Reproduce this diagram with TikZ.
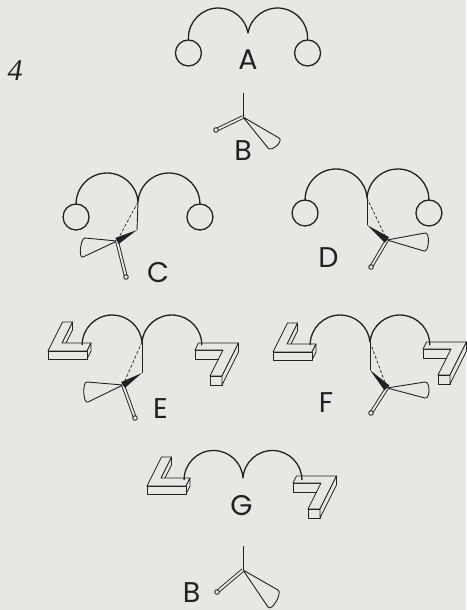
\documentclass[tikz,border=0pt]{standalone}
\usepackage{fontspec}
\setmainfont{Poppins}
\newfontfamily\numfont{Liberation Serif}
\usetikzlibrary{calc}
\definecolor{paper}{RGB}{231,231,228}
\definecolor{ink}{RGB}{34,34,34}

\tikzset{
  bond/.style={draw=ink, line width=0.9pt, line join=round},
  arcline/.style={draw=ink, line width=1.3pt, line join=round},
  hashbond/.style={draw=ink, line width=0.7pt, dash pattern=on 3pt off 2pt},
  face/.style={draw=ink, fill=paper, line width=0.85pt, line join=round},
  lbl/.style={inner sep=0pt, text=ink, font=\fontsize{28.5}{28.5}\selectfont},
}

% extruded L lying flat, origin = front-left top corner
\newcommand\Lblock[2]{%
  \begin{scope}[shift={(#1,#2)}, x={(1pt,0pt)}, y={(0.5pt,1pt)}]
    \draw[face] (10,8) -- (10,29) -- ([yshift=-8pt]10,29) -- ([yshift=-8pt]10,8) -- cycle;
    \draw[face] (0,0) -- (39,0) -- (39,8) -- (10,8) -- (10,29) -- (0,29) -- cycle;
    \draw[face] (39,0) -- (39,8) -- ([yshift=-8pt]39,8) -- ([yshift=-8pt]39,0) -- cycle;
    \draw[face] (0,0) -- (39,0) -- ([yshift=-8pt]39,0) -- ([yshift=-8pt]0,0) -- cycle;
  \end{scope}}

% extruded 7 lying flat, origin = front-left top corner of the stem
\newcommand\Sblock[2]{%
  \begin{scope}[shift={(#1,#2)}, x={(1pt,0pt)}, y={(0.5pt,1pt)}]
    \draw[face] (-28,26) -- (0,26) -- ([yshift=-9pt]0,26) -- ([yshift=-9pt]-28,26) -- cycle;
    \draw[face] (0,0) -- (12,0) -- (12,33) -- (-28,33) -- (-28,26) -- (0,26) -- cycle;
    \draw[face] (0,0) -- (12,0) -- ([yshift=-9pt]12,0) -- ([yshift=-9pt]0,0) -- cycle;
    \draw[face] (12,0) -- (12,33) -- ([yshift=-9pt]12,33) -- ([yshift=-9pt]12,0) -- cycle;
  \end{scope}}

% two arches meeting at a cusp: junction x, junction y, centre y, radius, end y
\newcommand\archpair[5]{%
  \pgfmathsetmacro\arcD{sqrt((#4)*(#4)-((#3)-(#2))*((#3)-(#2)))}%
  \pgfmathsetmacro\arcG{asin(((#3)-(#2))/(#4))}%
  \pgfmathsetmacro\arcL{#1-\arcD-#4}%
  \pgfmathsetmacro\arcR{#1+\arcD+#4}%
  \draw[arcline] (\arcL,#5) -- (\arcL,#3)
    arc[start angle=180, end angle={360-\arcG}, radius=#4]
    arc[start angle={180+\arcG}, end angle=360, radius=#4] -- (\arcR,#5);}

% orbital lobe: apex, first rim point, second rim point
\newcommand\orbital[3]{%
  \draw[bond, fill=paper] (#1) -- (#2)
    .. controls ($(#2)!-0.14!(#1)$) and ($(#3)!-0.14!(#1)$) .. (#3) -- cycle;}
% hollow stick ending in a small ball
\newcommand\stickbond[2]{%
  \draw[bond, double=paper, double distance=1.9pt] (#1) -- (#2);
  \draw[bond, fill=paper] (#2) circle (2.3);}
% solid wedge: narrow end, wide end
\newcommand\wedgebond[2]{%
  \fill[ink] (#1) -- ($(#2)!3.5pt!90:(#1)$) -- ($(#2)!3.5pt!-90:(#1)$) -- cycle;}

\begin{document}
\begin{tikzpicture}[x=1pt, y=-1pt]
  \useasboundingbox (0,0) rectangle (466,610);
  \fill[paper] (0,0) rectangle (466,610);

  \node[inner sep=0pt, text=ink, font=\numfont\itshape\fontsize{30}{30}\selectfont] (num) at (15,71) {4};

  % --- A
  \archpair{248}{33}{38}{30}{40}
  \draw[arcline] (188.42,53) circle (13);
  \draw[arcline] (307.58,53) circle (13);
  \node[lbl] (labA) at (248,59.5) {A};

  % --- B (top)
  \coordinate (bK) at (243,117);
  \coordinate (bU) at (243,93);
  \coordinate (bE1) at (279,138);
  \coordinate (bE2) at (268,148);
  \coordinate (bT) at (216,130);
  \orbital{bK}{bE1}{bE2}
  \stickbond{bK}{bT}
  \draw[bond] (bU) -- (bK);
  \node[lbl] (labB1) at (243,150.5) {B};

  % --- C
  \archpair{138}{202}{204}{31}{204}
  \draw[arcline] (76.06,217) circle (13);
  \draw[arcline] (199.94,217) circle (13);
  \coordinate (cJ) at (138,202);
  \coordinate (cV) at (137,230);
  \coordinate (cK) at (117,241);
  \coordinate (cE1) at (85,238);
  \coordinate (cE2) at (83,257);
  \coordinate (cT) at (126,277);
  \orbital{cK}{cE1}{cE2}
  \stickbond{cK}{cT}
  \wedgebond{cV}{cK}
  \draw[bond] (cJ) -- (cV);
  \draw[hashbond] (cJ) -- (cK);
  \node[lbl] (labC) at (158,273) {C};

  % --- D
  \archpair{367}{198}{200}{31}{200}
  \draw[arcline] (305.06,213) circle (13);
  \draw[arcline] (428.94,213) circle (13);
  \coordinate (dJ) at (367,198);
  \coordinate (dV) at (367,225);
  \coordinate (dK) at (387,240);
  \coordinate (dE1) at (425,233);
  \coordinate (dE2) at (424,251);
  \coordinate (dT) at (371,267);
  \orbital{dK}{dE1}{dE2}
  \stickbond{dK}{dT}
  \wedgebond{dV}{dK}
  \draw[bond] (dJ) -- (dV);
  \draw[hashbond] (dJ) -- (dK);
  \node[lbl] (labD) at (328.5,258) {D};

  % --- E
  \Lblock{48}{351}
  \Sblock{210}{376}
  \archpair{142}{342}{345}{30}{345}
  \coordinate (eJ) at (142,342);
  \coordinate (eV) at (142,373);
  \coordinate (eK) at (123,385);
  \coordinate (eE1) at (87,382);
  \coordinate (eE2) at (88,402);
  \coordinate (eT) at (135,418);
  \orbital{eK}{eE1}{eE2}
  \stickbond{eK}{eT}
  \wedgebond{eV}{eK}
  \draw[bond] (eJ) -- (eV);
  \draw[hashbond] (eJ) -- (eK);
  \node[lbl] (labE) at (160.5,408.5) {E};

  % --- F
  \Lblock{273}{352}
  \Sblock{438}{375}
  \archpair{370}{342}{345}{30}{345}
  \coordinate (fJ) at (370,342);
  \coordinate (fV) at (370,370);
  \coordinate (fK) at (387,388);
  \coordinate (fE1) at (425,382);
  \coordinate (fE2) at (425,398);
  \coordinate (fT) at (371,413);
  \orbital{fK}{fE1}{fE2}
  \stickbond{fK}{fT}
  \wedgebond{fV}{fK}
  \draw[bond] (fJ) -- (fV);
  \draw[hashbond] (fJ) -- (fK);
  \node[lbl] (labF) at (326,402.5) {F};

  % --- G
  \Lblock{147}{486}
  \Sblock{308}{509}
  \archpair{243}{478}{480}{29.5}{480}
  \node[lbl] (labG) at (241.5,506) {G};

  % --- B (bottom)
  \coordinate (gK) at (243,570);
  \coordinate (gU) at (243,546);
  \coordinate (gE1) at (278,590);
  \coordinate (gE2) at (268,607);
  \coordinate (gT) at (217,592);
  \orbital{gK}{gE1}{gE2}
  \stickbond{gK}{gT}
  \draw[bond] (gU) -- (gK);
  \node[lbl] (labB2) at (191.5,592.5) {B};
\end{tikzpicture}
\end{document}
